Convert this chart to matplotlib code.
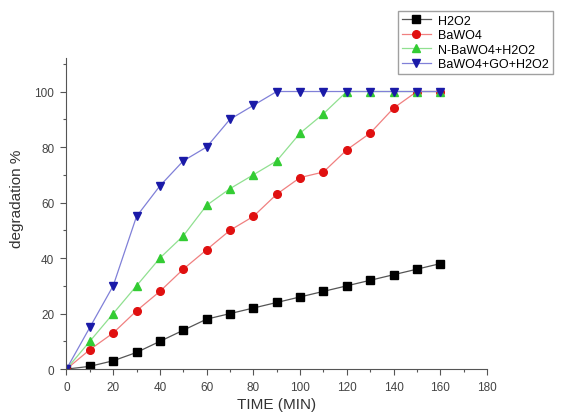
import matplotlib.pyplot as plt
from matplotlib.ticker import MultipleLocator

plt.rcParams['font.family'] = ['Liberation Sans', 'DejaVu Sans']

time_min = [0, 10, 20, 30, 40, 50, 60, 70, 80, 90, 100, 110, 120, 130, 140, 150, 160]

h2o2 = [0, 1, 3, 6, 10, 14, 18, 20, 22, 24, 26, 28, 30, 32, 34, 36, 38]
bawo4 = [0, 7, 13, 21, 28, 36, 43, 50, 55, 63, 69, 71, 79, 85, 94, 100, 100]
n_bawo4 = [0, 10, 20, 30, 40, 48, 59, 65, 70, 75, 85, 92, 100, 100, 100, 100, 100]
bawo4_go = [0, 15, 30, 55, 66, 75, 80, 90, 95, 100, 100, 100, 100, 100, 100, 100, 100]

labels = ['H2O2', 'BaWO4', 'N-BaWO4+H2O2', 'BaWO4+GO+H2O2']
series = [h2o2, bawo4, n_bawo4, bawo4_go]
markers = ['s', 'o', '^', 'v']
marker_colors = ['#000000', '#e01010', '#33cc33', '#1a1aa8']
line_colors = ['#555555', '#f08080', '#90e090', '#8080d8']

fig = plt.figure(figsize=(5.63, 4.14), dpi=100)
ax = fig.add_axes([0.118, 0.106, 0.747, 0.751])

for ys, lab, mk, mc, lc in zip(series, labels, markers, marker_colors, line_colors):
    ax.plot(time_min, ys, color=lc, linewidth=0.9, marker=mk, markersize=5.5,
            markerfacecolor=mc, markeredgecolor=mc, label=lab)

ax.set_xlim(0, 180)
ax.set_ylim(0, 112)
ax.xaxis.set_major_locator(MultipleLocator(20))
ax.xaxis.set_minor_locator(MultipleLocator(10))
ax.yaxis.set_major_locator(MultipleLocator(20))
ax.yaxis.set_minor_locator(MultipleLocator(10))
ax.spines['top'].set_visible(False)
ax.spines['right'].set_visible(False)
for sp in ('left', 'bottom'):
    ax.spines[sp].set_color('#555555')
ax.tick_params(which='major', length=4.3, width=0.8, color='#555555', labelsize=8.5,
               labelcolor='#444444', pad=4.5)
ax.tick_params(which='minor', length=2.2, width=0.8, color='#555555')

ax.set_xlabel('TIME (MIN)', fontsize=11, color='#333333', labelpad=2.5)
ax.set_ylabel('degradation %', fontsize=11, color='#333333')
ax.yaxis.set_label_coords(-0.101, 0.551)

fig.legend(loc='upper left', bbox_to_anchor=(398 / 563, 1 - 12 / 414),
           fontsize=9, frameon=True, fancybox=False, edgecolor='#888888',
           labelspacing=0.2, handlelength=2.3, handletextpad=0.6,
           borderpad=0.3, borderaxespad=0)

fig.savefig('out.png', dpi=100)
